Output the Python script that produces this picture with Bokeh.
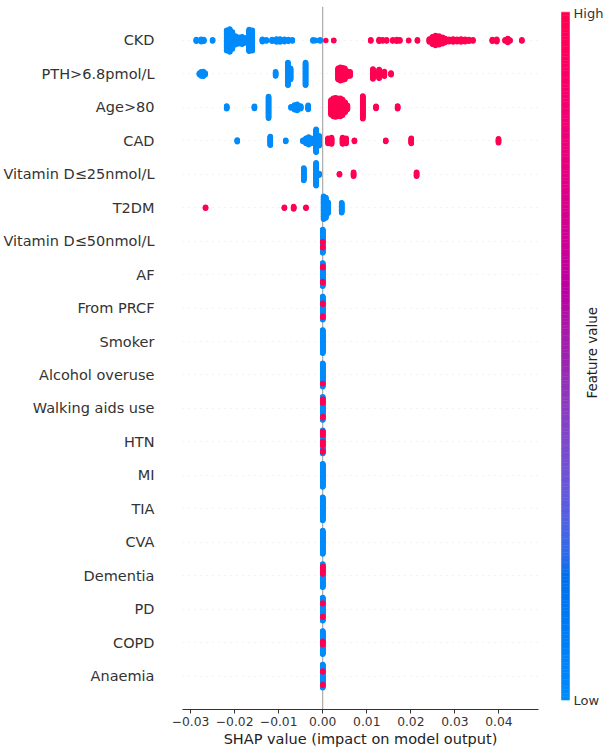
import numpy as np
from bokeh.plotting import figure
from bokeh.models import ColumnDataSource, Range1d, FixedTicker, Span, Label
from bokeh.layouts import row
from bokeh.embed import file_html
from bokeh.resources import INLINE

# ---------------- data ----------------
features = ["CKD", "PTH>6.8pmol/L", "Age>80", "CAD", "Vitamin D≤25nmol/L", "T2DM",
            "Vitamin D≤50nmol/L", "AF", "From PRCF", "Smoker", "Alcohol overuse",
            "Walking aids use", "HTN", "MI", "TIA", "CVA", "Dementia", "PD", "COPD", "Anaemia"]

x_ticks = [-0.03, -0.02, -0.01, 0.0, 0.01, 0.02, 0.03, 0.04]
x_tick_labels = ["−0.03", "−0.02", "−0.01", "0.00", "0.01", "0.02", "0.03", "0.04"]

# SHAP value clusters (value, number of patients, feature value high=1 / low=0)
ckd_shap = [-0.0287, -0.0276, -0.0270, -0.0250, -0.0218, -0.0211, -0.0205, -0.0198, -0.0190,
            -0.0183, -0.0177, -0.0167, -0.0160, -0.0137, -0.0128, -0.0115, -0.0105, -0.0097,
            -0.0087, -0.0078, -0.0069, -0.0022, -0.0016, -0.0006,
            0.0007, 0.0025, 0.0109, 0.0128, 0.0136, 0.0145, 0.0159, 0.0168, 0.0175, 0.0195,
            0.0215, 0.0242, 0.0249, 0.0256, 0.0264, 0.0272, 0.0278, 0.0287, 0.0296, 0.0305,
            0.0314, 0.0323, 0.0332, 0.0341, 0.0385, 0.0395, 0.0414, 0.0420, 0.0425, 0.0452]
ckd_count = [4, 5, 4, 3, 36, 40, 30, 16, 12, 14, 10, 38, 36, 5, 3, 4, 6, 6, 5, 4, 3, 3, 2, 3,
             1, 2, 3, 4, 3, 3, 3, 4, 3, 2, 3, 6, 14, 18, 16, 12, 8, 5, 6, 5, 6, 5, 4, 3,
             4, 5, 3, 8, 3, 3]
ckd_high = [0] * 24 + [1] * 30

pth_shap = [-0.0280, -0.0276, -0.0271, -0.0267, -0.0107, -0.0079, -0.0073, -0.0039,
            0.0035, 0.0040, 0.0045, 0.0050, 0.0056, 0.0062, 0.0114, 0.0128, 0.0140, 0.0155]
pth_count = [3, 8, 9, 4, 8, 40, 20, 40, 20, 24, 22, 20, 10, 8, 18, 16, 9, 4]
pth_high = [0] * 8 + [1] * 10

age_shap = [-0.0218, -0.0155, -0.0123, -0.0072, -0.0064, -0.0058, -0.0050, -0.0033,
            0.0019, 0.0024, 0.0029, 0.0034, 0.0040, 0.0045, 0.0051, 0.0056, 0.0091, 0.0121, 0.0170]
age_count = [6, 5, 38, 3, 9, 12, 6, 8, 26, 32, 34, 32, 32, 28, 18, 8, 40, 5, 6]
age_high = [0] * 8 + [1] * 11

cad_shap = [-0.0194, -0.0119, -0.0084, -0.0045, -0.0038, -0.0032, -0.0026, -0.0015, -0.0008,
            0.0012, 0.0020, 0.0045, 0.0053, 0.0072, 0.0143, 0.0201, 0.0399]
cad_count = [4, 16, 3, 3, 10, 14, 10, 40, 18, 10, 12, 12, 10, 3, 3, 10, 8]
cad_high = [0] * 9 + [1] * 8

vitd25_shap = [-0.0043, -0.0015, -0.0008, 0.0038, 0.0070, 0.0213]
vitd25_count = [22, 40, 4, 3, 8, 8]
vitd25_high = [0, 0, 0, 1, 1, 1]

t2dm_shap = [-0.0266, -0.0087, -0.0066, -0.0038, 0.0002, 0.0007, 0.0012, 0.0043]
t2dm_count = [3, 3, 5, 3, 40, 36, 20, 18]
t2dm_high = [1, 1, 1, 1, 0, 0, 0, 0]

# features whose SHAP values are all ~0: run lengths of low / high values (starting with low)
vitd50_runs = [31, 3, 10, 3, 13]
af_runs = [9, 4, 34, 4, 9]
prcf_runs = [17, 4, 29, 4, 6]
smoker_runs = [60]
alcohol_runs = [51, 2, 7]
walking_runs = [6, 3, 4, 4, 33, 4, 6]
htn_runs = [3, 4, 2, 5, 15, 3, 3, 4, 13, 4, 4]
mi_runs = [60]
tia_runs = [60]
cva_runs = [60]
dementia_runs = [6, 4, 4, 5, 3, 4, 34]
pd_runs = [14, 3, 31, 3, 9]
copd_runs = [26, 3, 3, 4, 24]
anaemia_runs = [17, 3, 31, 3, 6]

# ---------------- build beeswarm ----------------
BLUE = "#008bfb"
RED = "#ff0052"
FONT = "DejaVu Sans"
n_rows = len(features)
pts = []  # (x, y, high)


def add_clusters(name, shap, count, high):
    r = n_rows - 1 - features.index(name)
    scale = 0.36 / ((max(count) - 1) / 2 + 1)
    for v, c, h in zip(shap, count, high):
        for j in range(c):
            pts.append((v, r + (j - (c - 1) / 2) * scale, h))


def add_zero(name, runs):
    r = n_rows - 1 - features.index(name)
    total = sum(runs)
    scale = 0.36 / ((total - 1) / 2 + 1)
    k = 0
    for i, n in enumerate(runs):
        for _ in range(n):
            pts.append((0.0, r + ((total - 1) / 2 - k) * scale, i % 2))
            k += 1


add_clusters("CKD", ckd_shap, ckd_count, ckd_high)
add_clusters("PTH>6.8pmol/L", pth_shap, pth_count, pth_high)
add_clusters("Age>80", age_shap, age_count, age_high)
add_clusters("CAD", cad_shap, cad_count, cad_high)
add_clusters("Vitamin D≤25nmol/L", vitd25_shap, vitd25_count, vitd25_high)
add_clusters("T2DM", t2dm_shap, t2dm_count, t2dm_high)
add_zero("Vitamin D≤50nmol/L", vitd50_runs)
add_zero("AF", af_runs)
add_zero("From PRCF", prcf_runs)
add_zero("Smoker", smoker_runs)
add_zero("Alcohol overuse", alcohol_runs)
add_zero("Walking aids use", walking_runs)
add_zero("HTN", htn_runs)
add_zero("MI", mi_runs)
add_zero("TIA", tia_runs)
add_zero("CVA", cva_runs)
add_zero("Dementia", dementia_runs)
add_zero("PD", pd_runs)
add_zero("COPD", copd_runs)
add_zero("Anaemia", anaemia_runs)

pts.sort(key=lambda t: t[2])  # low first, high drawn on top
src = ColumnDataSource(dict(x=[t[0] for t in pts], y=[t[1] for t in pts],
                            pt_color=[RED if t[2] else BLUE for t in pts]))

# ---------------- main plot ----------------
p = figure(width=548, height=749, x_range=Range1d(-0.03183, 0.04898),
           y_range=Range1d(-1, 20.015), output_backend="svg", toolbar_location=None,
           min_border_left=180, min_border_right=10, min_border_top=6, min_border_bottom=39)
p.outline_line_color = None

p.add_layout(Span(location=0, dimension="height", line_color="#999999", line_width=1,
                  level="underlay"))
p.scatter("x", "y", source=src, size=5.5, fill_color="pt_color", line_color=None)

p.xaxis.ticker = FixedTicker(ticks=x_ticks)
p.xaxis.major_label_overrides = dict(zip(x_ticks, x_tick_labels))
p.xaxis.major_label_text_font = FONT
p.xaxis.major_label_text_font_size = "12.3px"
p.xaxis.major_label_text_color = "#333333"
p.xaxis.axis_line_color = "#333333"
p.xaxis.major_tick_line_color = "#333333"
p.xaxis.major_tick_out = 4
p.xaxis.major_tick_in = 0
p.xaxis.minor_tick_line_color = None
p.xaxis.major_label_standoff = 3
p.xaxis.axis_label = "SHAP value (impact on model output)"
p.xaxis.axis_label_text_font = FONT
p.xaxis.axis_label_text_font_size = "14.5px"
p.xaxis.axis_label_text_font_style = "normal"
p.xaxis.axis_label_text_color = "#222222"
p.xaxis.axis_label_standoff = 2

p.yaxis.ticker = FixedTicker(ticks=list(range(n_rows)))
p.yaxis.major_label_overrides = {i: features[n_rows - 1 - i] for i in range(n_rows)}
p.yaxis.major_label_text_font = FONT
p.yaxis.major_label_text_font_size = "14.5px"
p.yaxis.major_label_text_color = "#333333"
p.yaxis.axis_line_color = None
p.yaxis.major_tick_line_color = None
p.yaxis.minor_tick_line_color = None
p.yaxis.major_tick_out = 0
p.yaxis.major_tick_in = 0
p.yaxis.major_label_standoff = 28

p.xgrid.grid_line_color = None
p.ygrid.grid_line_color = "#cccccc"
p.ygrid.grid_line_width = 0.5
p.ygrid.grid_line_dash = "1 5"

# ---------------- colour bar ----------------
def lch_to_rgb(l, c, h):
    a = c * np.cos(h)
    b = c * np.sin(h)
    fy = (l + 16) / 116
    fx = fy + a / 500
    fz = fy - b / 200

    def finv(t):
        return np.where(t ** 3 > 0.008856, t ** 3, (t - 16 / 116) / 7.787)

    X = 0.95047 * finv(fx)
    Y = finv(fy)
    Z = 1.08883 * finv(fz)
    r = 3.2406 * X - 1.5372 * Y - 0.4986 * Z
    g = -0.9689 * X + 1.8758 * Y + 0.0415 * Z
    bl = 0.0557 * X - 0.2040 * Y + 1.0570 * Z
    rgb = np.stack([r, g, bl])
    rgb = np.where(rgb > 0.0031308, 1.055 * np.power(np.clip(rgb, 0, None), 1 / 2.4) - 0.055,
                   12.92 * rgb)
    return np.clip(rgb, 0, 1)


nsteps = 200
l_vals = np.concatenate([np.linspace(54, 40, nsteps // 2), np.linspace(40, 54, nsteps // 2)])
c_vals = np.linspace(70, 90, nsteps)
h_vals = np.linspace(4.6588, 0.35470565 + 2 * np.pi, nsteps)
rgb = lch_to_rgb(l_vals, c_vals, h_vals)
grad_colors = ["#%02x%02x%02x" % tuple(int(round(v * 255)) for v in rgb[:, i]) for i in range(nsteps)]

bar_top, bar_bot = 6.0, 739.0
edges = np.linspace(bar_bot, bar_top, nsteps + 1)

cb = figure(width=64, height=749, x_range=Range1d(548, 612), y_range=Range1d(749, 0),
            output_backend="svg", toolbar_location=None, min_border=0,
            x_axis_location=None, y_axis_location=None)
cb.grid.visible = False
cb.outline_line_color = None
cb.quad(left=561, right=569, bottom=edges[:-1], top=edges[1:], fill_color=grad_colors,
        line_color=grad_colors, line_width=0.5)
cb.add_layout(Label(x=573, y=bar_top + 1, text="High", text_align="left", text_baseline="middle",
                    text_font=FONT, text_font_size="13px", text_color="#333333"))
cb.add_layout(Label(x=573, y=bar_bot, text="Low", text_align="left", text_baseline="middle",
                    text_font=FONT, text_font_size="13px", text_color="#333333"))
cb.add_layout(Label(x=592, y=369, text="Feature value", text_align="center",
                    text_baseline="middle", angle=np.pi / 2, text_font=FONT,
                    text_font_size="13.4px", text_color="#222222"))

layout = row(p, cb)
open("out.html", "w").write(file_html(layout, INLINE))
